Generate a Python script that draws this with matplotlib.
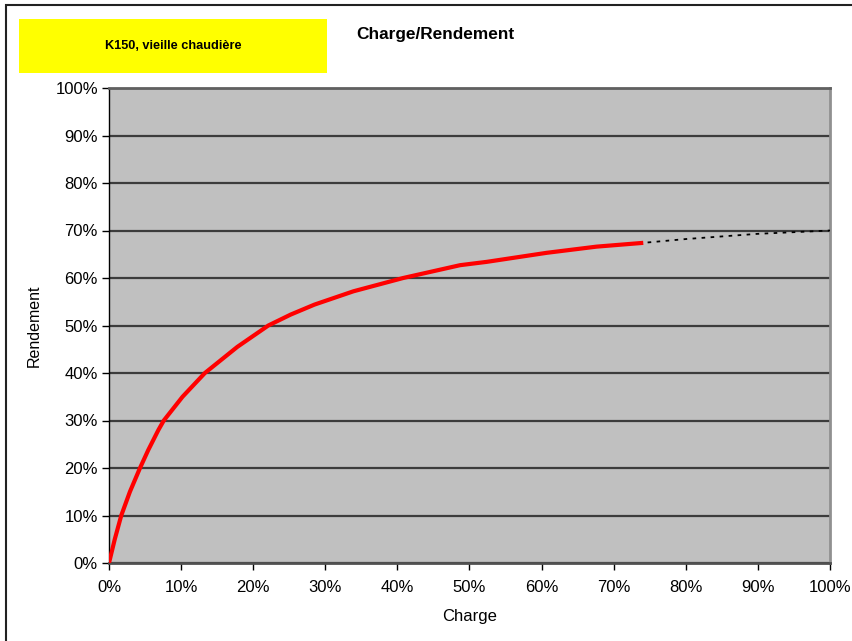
import matplotlib.pyplot as plt
import numpy as np
from matplotlib.patches import Rectangle
from matplotlib.ticker import PercentFormatter

plt.rcParams['font.family'] = ['Liberation Sans', 'DejaVu Sans']

# measured curve (charge %, rendement %)
charge = [0, 0.8, 1.7, 2.9, 4.3, 5.45, 6.85, 7.6, 10.2, 13.3, 17.8, 22.1,
          25.2, 28.5, 33.9, 40.8, 48.7, 52.4, 60.7, 67.6, 74.1]
rendement = [0, 5, 10, 15, 20, 23.8, 28, 30, 35, 40, 45.5, 50,
             52.3, 54.4, 57.2, 60, 62.7, 63.4, 65.3, 66.6, 67.4]

# extrapolated part (dotted)
charge_ext = [74.1, 80, 90, 100]
rendement_ext = [67.4, 68.2, 69.3, 70]

xticks = np.arange(0, 101, 10)
yticks = np.arange(0, 101, 10)

fig = plt.figure(figsize=(8.53, 6.41), dpi=100)
ax = fig.add_axes([109 / 853, 78 / 641, 721 / 853, 475 / 641])
ax.set_facecolor('#c0c0c0')

# outer chart frame (only left and top edges visible)
fig.patches.append(Rectangle((6 / 853, -0.1), 1.2, 1.1 - 5 / 641,
                             transform=fig.transFigure, fill=False,
                             edgecolor='#222222', linewidth=1.5))

# trend line under the red curve
ax.plot(charge + charge_ext[1:], rendement + rendement_ext[1:], color='black',
        linestyle=(0, (2, 3)), linewidth=1.3, zorder=3)
ax.plot(charge, rendement, color='#ff0000', linewidth=3, zorder=4,
        solid_capstyle='butt', solid_joinstyle='round')

ax.set_xlim(0, 100)
ax.set_ylim(0, 100)
ax.set_xticks(xticks)
ax.set_yticks(yticks)
ax.xaxis.set_major_formatter(PercentFormatter(decimals=0))
ax.yaxis.set_major_formatter(PercentFormatter(decimals=0))
ax.tick_params(direction='out', length=5, width=1, labelsize=12, pad=3,
               colors='black')
ax.tick_params(axis='x', pad=7)

ax.grid(axis='y', color='#3c3c3c', linewidth=1.6)
ax.set_axisbelow(True)

ax.spines['left'].set_color('black')
ax.spines['left'].set_linewidth(1)
ax.spines['bottom'].set_color('#505050')
ax.spines['bottom'].set_linewidth(2)
ax.spines['top'].set_color('#606060')
ax.spines['top'].set_linewidth(2)
ax.spines['right'].set_color('#909090')
ax.spines['right'].set_linewidth(2)

ax.set_xlabel('Charge', fontsize=12, labelpad=10)
ax.set_ylabel('Rendement', fontsize=11.5, labelpad=10)

# yellow label box
fig.patches.append(Rectangle((19 / 853, 1 - 73 / 641), 308 / 853, 54 / 641,
                             transform=fig.transFigure, facecolor='#ffff00',
                             edgecolor='none'))
fig.text(173 / 853, 1 - 46 / 641, 'K150, vieille chaudière', fontsize=9.2,
         fontweight='bold', ha='center', va='center')

fig.text(435 / 853, 1 - 34 / 641, 'Charge/Rendement', fontsize=12.4,
         fontweight='bold', ha='center', va='center')

fig.savefig('out.png', dpi=100)
